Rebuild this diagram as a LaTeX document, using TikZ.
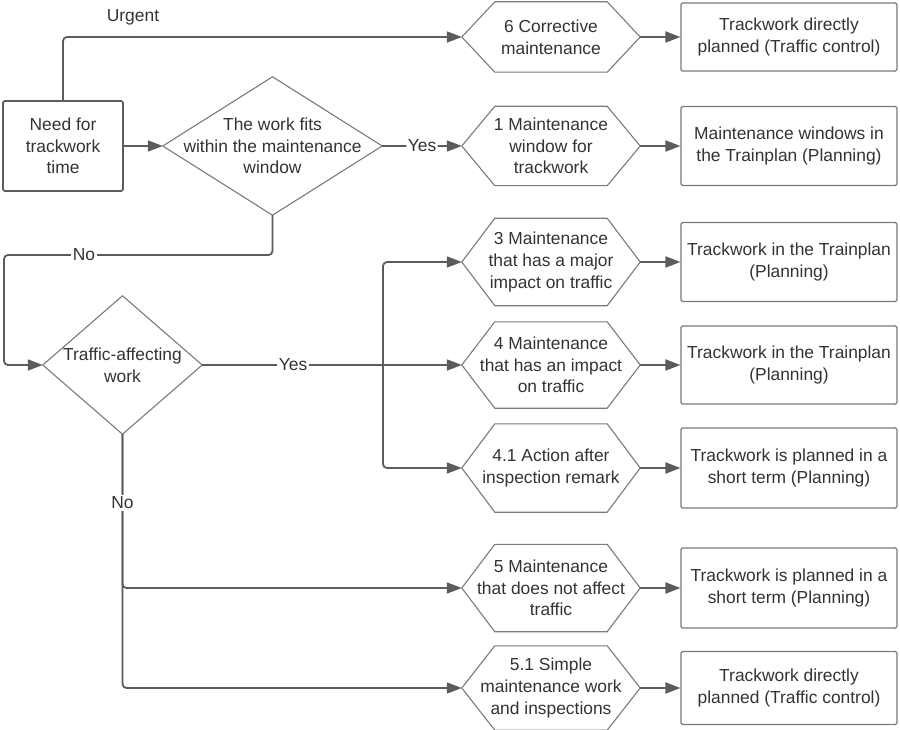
\documentclass[tikz,border=0pt]{standalone}
\usepackage{fontspec}
\setmainfont{Liberation Sans}
\usetikzlibrary{arrows.meta}
\definecolor{txt}{HTML}{333333}
\definecolor{conn}{HTML}{5C5C5C}
\definecolor{edge}{HTML}{7A7A7A}
\tikzset{
  base/.style={inner sep=0pt, align=center, text=txt, font=\fontsize{17.4}{21.7}\selectfont},
  plainbox/.style={base, draw=edge, line width=1.1pt, rounded corners=1.5pt},
  startbox/.style={base, draw=conn, line width=1.6pt, rounded corners=1.5pt, minimum width=120pt, minimum height=90pt},
  hexbox/.style={base, minimum width=178pt},
  dia/.style={base},
  outbox/.style={plainbox, minimum width=216pt},
  shapeline/.style={draw=edge, line width=1.1pt},
  conline/.style={draw=conn, line width=1.8pt, rounded corners=4pt},
  arr/.style={conline, -{Triangle[length=15pt,width=11pt]}},
  lbl/.style={base, fill=white, inner sep=1.5pt}
}
\begin{document}
\begin{tikzpicture}[x=1pt,y=-1pt]
\useasboundingbox (0,0) rectangle (900,730);
% start
\node[startbox] (need) at (63,146) {Need for\\trackwork\\time};
% diamonds
\node[dia, minimum width=219pt, minimum height=138pt] (d1) at (272.5,146) {The work fits\\within the maintenance\\window};
\node[dia, minimum width=159pt, minimum height=138pt] (d2) at (122.5,365) {Traffic-affecting\\work};
\foreach \n in {d1,d2}
  \draw[shapeline] (\n.west) -- (\n.north) -- (\n.east) -- (\n.south) -- cycle;
% hexagons
\node[hexbox, minimum height=70pt] (h6) at (551,37) {6 Corrective\\maintenance};
\node[hexbox, minimum height=79pt] (h1) at (551,146) {1 Maintenance\\window for\\trackwork};
\node[hexbox, minimum height=87pt] (h3) at (551,262) {3 Maintenance\\that has a major\\impact on traffic};
\node[hexbox, minimum height=86pt] (h4) at (551,365) {4 Maintenance\\that has an impact\\on traffic};
\node[hexbox, minimum height=88pt] (h41) at (551,468) {4.1 Action after\\inspection remark};
\node[hexbox, minimum height=87pt] (h5) at (551,588) {5 Maintenance\\that does not affect\\traffic};
\node[hexbox, minimum height=84pt] (h51) at (551,688) {5.1 Simple\\maintenance work\\and inspections};
\foreach \n in {h6,h1,h3,h4,h41,h5,h51}
  \draw[shapeline] (\n.west) -- ([xshift=33pt]\n.north west) -- ([xshift=-33pt]\n.north east)
     -- (\n.east) -- ([xshift=-33pt]\n.south east) -- ([xshift=33pt]\n.south west) -- cycle;
% outcome boxes
\node[outbox, minimum height=68pt] (r6) at (789,37) {Trackwork directly\\planned (Traffic control)};
\node[outbox, minimum height=79pt] (r1) at (789,146) {Maintenance windows in\\the Trainplan (Planning)};
\node[outbox, minimum height=79pt] (r3) at (789,262) {Trackwork in the Trainplan\\(Planning)};
\node[outbox, minimum height=78pt] (r4) at (789,365) {Trackwork in the Trainplan\\(Planning)};
\node[outbox, minimum height=80pt] (r41) at (789,468) {Trackwork is planned in a\\short term (Planning)};
\node[outbox, minimum height=80pt] (r5) at (789,588) {Trackwork is planned in a\\short term (Planning)};
\node[outbox, minimum height=73pt] (r51) at (789,688) {Trackwork directly\\planned (Traffic control)};
% coordinates
\coordinate (c1) at (4,255);
\coordinate (b) at (383,365);
% connectors
\draw[arr] (need.east) -- (d1.west);
\draw[arr] (need.north) |- (h6.west);
\node[base] (urg) at (133,17) {Urgent};
\draw[arr] (d1.east) -- node[lbl] (yes1) {Yes} (h1.west);
\draw[arr] (d1.south) |- (c1) |- (d2.west);
\node[lbl] (no1) at (84,255) {No};
\draw[arr] (d2.east) -- (h4.west);
\node[lbl] (yes2) at (293,365) {Yes};
\draw[arr] (b) |- (h3.west);
\draw[arr] (b) |- (h41.west);
\draw[arr] (d2.south) |- (h5.west);
\draw[arr] (d2.south) |- (h51.west);
\node[lbl] (no2) at (122.5,503) {No};
\foreach \a/\b in {h6/r6,h1/r1,h3/r3,h4/r4,h41/r41,h5/r5,h51/r51}
  \draw[arr] (\a.east) -- (\b.west);
\end{tikzpicture}
\end{document}
